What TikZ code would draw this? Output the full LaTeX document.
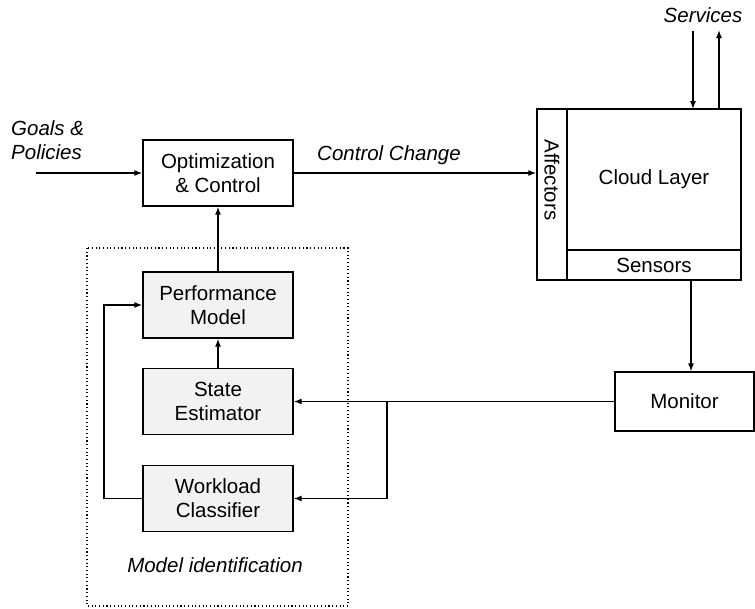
\documentclass[tikz,border=0pt]{standalone}
\usepackage{fontspec}
\setmainfont{Liberation Sans}
\usetikzlibrary{arrows.meta}
\begin{document}
\begin{tikzpicture}[x=1pt,y=-1pt,
  every node/.style={font=\fontsize{20.5}{24}\selectfont, inner sep=0pt},
  blk/.style={draw, line width=1.3pt, align=center, minimum width=150pt, minimum height=66pt},
  gblk/.style={blk, fill=black!5},
  lbl/.style={font=\fontsize{20.5}{24}\selectfont\itshape, align=left},
  conn/.style={line width=1.3pt},
  arr/.style={conn, -{Latex[length=8pt,width=6pt]}}
]
\useasboundingbox (0,0) rectangle (755,608);
% dotted frame
\draw[line width=1.1pt, dash pattern=on 1.1pt off 2.6pt] (87,248) rectangle (348,606);
\node[lbl] (mi) at (215,565) {Model identification};
% blocks
\node[blk] (opt) at (218,173) {Optimization\\\& Control};
\node[gblk] (pm) at (218,305) {Performance\\Model};
\node[gblk] (se) at (218,401.5) {State\\Estimator};
\node[gblk] (wc) at (218,498.5) {Workload\\Classifier};
\node[blk, minimum width=139pt, minimum height=59pt] (mon) at (684.5,401.5) {Monitor};
% cloud
\node[draw, line width=1.3pt, minimum width=174pt, minimum height=141pt] (cloud) at (654,179.5) {Cloud Layer};
\node[draw, line width=1.3pt, minimum width=174pt, minimum height=30pt] (sens) at (654,265) {Sensors};
\node[draw, line width=1.3pt, minimum width=30pt, minimum height=171pt] (aff) at (552,194.5) {};
\node[rotate=-90] (afft) at (552,180) {Affectors};
% labels
\node[lbl, anchor=west] (goals) at (11,140) {Goals \&\\Policies};
\node[lbl] (cc) at (389,155) {Control Change};
\node[lbl] (serv) at (703,15) {Services};
% coordinates
\coordinate (gin) at (36,173);
\coordinate (sd) at (693,31);
\coordinate (sdE) at (693,109);
\coordinate (su) at (719,109);
\coordinate (suE) at (719,30);
\coordinate (j) at (387,401.5);
\coordinate (fb) at (104,498.5);
% connectors
\draw[arr] (gin) -- (opt.west);
\draw[arr] (opt.east) -- (aff.west|-opt.east);
\draw[arr] (sd) -- (sdE);
\draw[arr] (su) -- (suE);
\draw[arr] (sens.south-|691,0) -- (mon.north-|691,0);
\draw[arr] (pm.north) -- (opt.south);
\draw[arr] (se.north) -- (pm.south);
\draw[arr] (mon.west) -- (se.east);
\draw[arr] (j) |- (wc.east);
\draw[arr] (wc.west) -- (fb) |- (pm.west);
\end{tikzpicture}
\end{document}
